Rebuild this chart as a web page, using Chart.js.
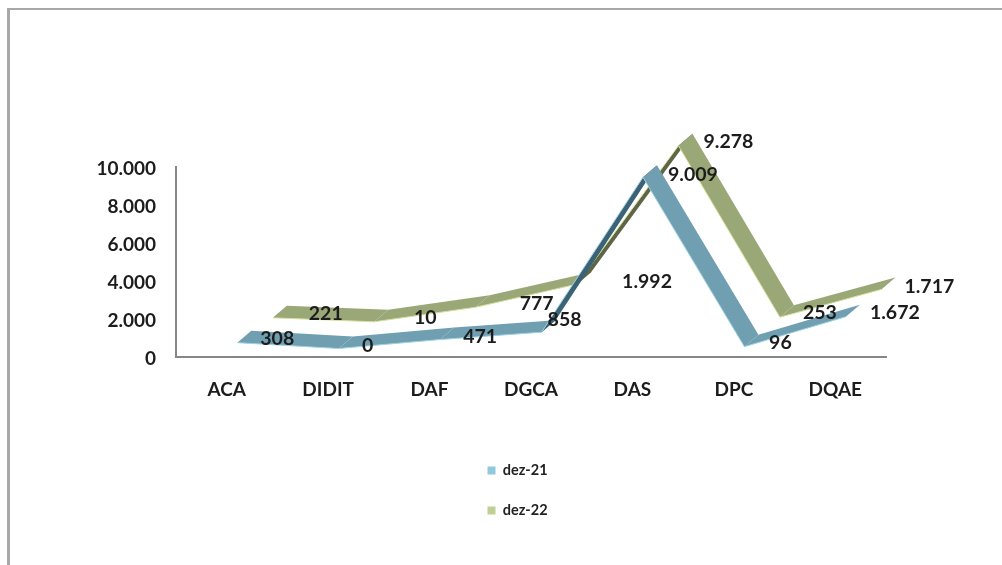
<!DOCTYPE html>
<html><head><meta charset="utf-8">
<style>
html,body{margin:0;padding:0;background:#fff;overflow:hidden}
#wrap{position:relative;width:1002px;height:565px}
#frame{position:absolute;left:7px;top:8px;right:0;bottom:0;border-left:3px solid #a8a8a8;border-top:2px solid #a8a8a8;box-sizing:border-box}
canvas{position:absolute;left:0;top:0;filter:blur(.45px)}
</style>
<script src="https://cdn.jsdelivr.net/npm/chart.js@4/dist/chart.umd.min.js"></script>
</head><body><div id="wrap"><div id="frame"></div><canvas id="c" width="1002" height="565"></canvas></div>
<script>
const categories=['ACA','DIDIT','DAF','DGCA','DAS','DPC','DQAE'];
const dez21=[308,0,471,858,9009,96,1672];
const dez22=[221,10,777,1992,9278,253,1717];
const seriesNames=['dez-21','dez-22'];
// styling: label offsets from each front point, ribbon depth and colours
const labelOffsets=[
 [[40,-4],[29,-3],[40,-3],[23,-12],[50,-3],[36,-4],[49,-4]],
 [[53,-4],[51,-4],[61,-4],[70,-2],[50,-4],[40,-4],[48,-3]]
];
const depth={x:14,y:-12};
const faces=[{light:'#6f9fb1',dark:'#3c6375'},{light:'#9aa777',dark:'#5f6645'}];
const fmt=v=>String(v).replace(/\B(?=(\d{3})+$)/g,'.');
const font={family:'Lato, Carlito, sans-serif',size:19,weight:'bold'};

const ribbon={id:'ribbon',beforeDatasetDraw(chart,args){
  const pts=chart.getDatasetMeta(args.index).data,ctx=chart.ctx,f=faces[args.index];
  ctx.save();
  for(let i=0;i<pts.length-1;i++){
    const a=pts[i],b=pts[i+1];
    const steepUp=(b.y-a.y)/(b.x-a.x)<-0.8;
    ctx.fillStyle=steepUp?f.dark:f.light;
    ctx.beginPath();ctx.moveTo(a.x,a.y);ctx.lineTo(b.x,b.y);
    ctx.lineTo(b.x+depth.x,b.y+depth.y);ctx.lineTo(a.x+depth.x,a.y+depth.y);
    ctx.closePath();ctx.fill();
  }
  ctx.restore();
}};
const valueLabels={id:'valueLabels',afterDatasetsDraw(chart){
  const ctx=chart.ctx;ctx.save();
  ctx.font='bold 19.5px '+font.family;ctx.fillStyle='#1c1c1c';
  ctx.textAlign='center';ctx.textBaseline='middle';
  chart.data.datasets.forEach((ds,d)=>{
    chart.getDatasetMeta(d).data.forEach((p,i)=>{
      const o=labelOffsets[d][i];
      ctx.fillText(fmt(ds.data[i].y),p.x+o[0],p.y+o[1]);
    });
  });
  ctx.restore();
}};
// stacks the legend under the plot, in the free band below the axis
const legendPlace={id:'legendPlace',
  beforeLayout(chart){
    const l=chart.legend;
    if(!l._sized){l._sized=true;const f=l.fit.bind(l);l.fit=function(){f();this.width=116;};}
  },
  afterLayout(chart){
    const l=chart.legend,w=l.width,h=l.height;
    l.left=462;l.right=462+w;l.top=437.75;l.bottom=437.75+h;
    l.adjustHitBoxes&&l.adjustHitBoxes();
  }};
const toPoints=a=>a.map((y,x)=>({x,y}));
const hiddenX=s=>({type:'linear',display:false,min:-0.5-s,max:6.5-s});
const hiddenY=s=>({type:'linear',display:false,min:-s,max:10000-s});

new Chart(document.getElementById('c'),{
  type:'line',
  plugins:[legendPlace,ribbon,valueLabels],
  data:{labels:categories,datasets:[
    {label:seriesNames[0],data:toPoints(dez21),xAxisID:'x1',yAxisID:'y1',borderColor:'#9fd3e2',backgroundColor:'#8fc9dc',borderWidth:1,pointRadius:0,tension:0,clip:false},
    {label:seriesNames[1],data:toPoints(dez22),xAxisID:'x2',yAxisID:'y2',borderColor:'#d3e09c',backgroundColor:'#bfd095',borderWidth:1,pointRadius:0,tension:0,clip:false}
  ]},
  options:{
    responsive:false,animation:false,
    layout:{padding:{left:0,right:0,top:167,bottom:128}},
    plugins:{
      tooltip:{enabled:false},
      title:{display:false},
      legend:{display:true,position:'right',align:'start',
        labels:{boxWidth:8,boxHeight:8,padding:25.5,color:'#222',
          font:{family:font.family,size:14.5,weight:'bold'},
          generateLabels:c=>c.data.datasets.map((d,i)=>({text:d.label,fillStyle:d.backgroundColor,strokeStyle:d.backgroundColor,lineWidth:0,datasetIndex:i,fontColor:'#222'}))
        }}
    },
    scales:{
      x:{type:'category',labels:categories,offset:true,grid:{display:false,drawTicks:false},
         border:{color:'#868686',width:2},
         ticks:{color:'#1c1c1c',font,padding:21,maxRotation:0},
         afterFit:s=>{s.height=80}},
      y:{min:0,max:10000,grid:{display:false,drawTicks:false},
         border:{color:'#868686',width:2},
         ticks:{stepSize:2000,color:'#1c1c1c',font,padding:20,labelOffset:1.5,callback:v=>fmt(v)},
         afterFit:s=>{s.width=176}},
      x1:hiddenX(0.104),y1:hiddenY(447),
      x2:hiddenX(0.454),y2:hiddenY(1842)
    }
  }
});
</script></body></html>
